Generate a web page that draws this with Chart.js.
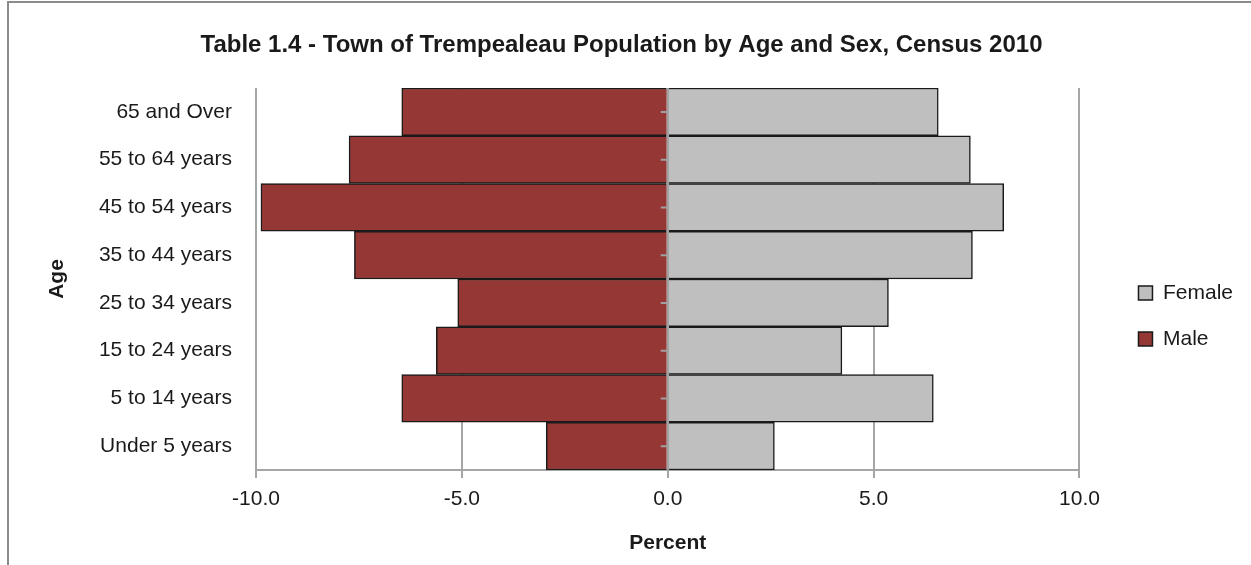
<!DOCTYPE html>
<html>
<head>
<meta charset="utf-8">
<script src="https://cdn.jsdelivr.net/npm/chart.js@4"></script>
<style>
  body { margin: 0; background: #fff; }
  #wrap { position: relative; width: 1251px; height: 565px; }
  #frame {
    position: absolute; left: 7px; top: 1px; right: 0; bottom: 0;
    border-top: 2px solid #8c8c8c; border-left: 2px solid #8c8c8c;
    pointer-events: none;
  }
</style>
</head>
<body>
<div id="wrap">
  <canvas id="myChart" width="1251" height="565"></canvas>
  <div id="frame"></div>
</div>
<script>
const ageGroups = [
  "65 and Over",
  "55 to 64 years",
  "45 to 54 years",
  "35 to 44 years",
  "25 to 34 years",
  "15 to 24 years",
  "5 to 14 years",
  "Under 5 years",
];
const malePercent = [-6.46, -7.74, -9.88, -7.61, -5.1, -5.62, -6.46, -2.95];
const femalePercent = [6.57, 7.35, 8.16, 7.4, 5.36, 4.23, 6.45, 2.59];
const xTicks = [-10, -5, 0, 5, 10];

const FONT = "'Liberation Sans', Arial, sans-serif";
const TEXT = "#1a1a1a";

// vertical axis at zero, drawn over the bars like in Excel
const zeroAxis = {
  id: "zeroAxis",
  afterDatasetsDraw(chart) {
    const { ctx, chartArea, scales } = chart;
    const x0 = scales.x.getPixelForValue(0);
    ctx.save();
    ctx.strokeStyle = "#a0a0a0";
    ctx.lineWidth = 2;
    ctx.beginPath();
    ctx.moveTo(x0, chartArea.top);
    ctx.lineTo(x0, chartArea.bottom);
    ageGroups.forEach((g, i) => {
      const y = scales.y.getPixelForValue(i);
      ctx.moveTo(x0 - 7, y);
      ctx.lineTo(x0, y);
    });
    ctx.stroke();
    ctx.restore();
  },
};

const chartData = {
  labels: ageGroups,
  datasets: [
    {
      label: "Male",
      data: malePercent,
      backgroundColor: "#953735",
      borderColor: "#1a1a1a",
      borderWidth: 1.5,
      barPercentage: 1,
      categoryPercentage: 1,
      xAxisID: "x",
      yAxisID: "y",
    },
    {
      label: "Female",
      data: femalePercent,
      backgroundColor: "#bfbfbf",
      borderColor: "#1a1a1a",
      borderWidth: 1.5,
      barPercentage: 1,
      categoryPercentage: 1,
      xAxisID: "x",
      yAxisID: "y",
    },
  ],
};

const config = {
  type: "bar",
  data: chartData,
  plugins: [zeroAxis],
  options: {
    indexAxis: "y",
    responsive: false,
    animation: false,
    devicePixelRatio: 1,
    layout: { padding: { left: 0, right: 8, top: 0, bottom: 0 } },
    plugins: {
      tooltip: { enabled: false },
      title: {
        display: true,
        text: "Table 1.4 - Town of Trempealeau Population by Age and Sex, Census 2010",
        color: TEXT,
        font: { family: FONT, size: 24, weight: "bold" },
        padding: { top: 30.5, bottom: 28.7 },
      },
      legend: {
        position: "right",
        reverse: true,
        title: { display: true, text: "", font: { size: 10 }, padding: { top: 55, bottom: 0 } },
        labels: {
          color: TEXT,
          font: { family: FONT, size: 21 },
          boxWidth: 14,
          boxHeight: 14,
          padding: 25,
        },
      },
    },
    scales: {
      x: {
        stacked: true,
        min: -10,
        max: 10,
        afterBuildTicks: (s) => { s.ticks = xTicks.map((v) => ({ value: v })); },
        afterFit: (s) => { s.height = 95; },
        grid: { color: "#a6a6a6", lineWidth: 2, tickLength: 8 },
        border: { color: "#a6a6a6", width: 2 },
        ticks: {
          color: TEXT,
          font: { family: FONT, size: 21 },
          padding: 9,
          callback: (v) => Number(v).toFixed(1),
        },
        title: {
          display: true,
          text: "Percent",
          color: TEXT,
          font: { family: FONT, size: 21, weight: "bold" },
          padding: { top: 0, bottom: 9.4 },
        },
      },
      y: {
        stacked: true,
        afterFit: (s) => { s.width = 256; },
        grid: { display: false, drawTicks: false },
        border: { display: false },
        ticks: { color: TEXT, font: { family: FONT, size: 21 }, padding: 24 },
        title: {
          display: true,
          text: "Age",
          color: TEXT,
          font: { family: FONT, size: 21, weight: "bold" },
          padding: { top: 44.4, bottom: 0 },
        },
      },
      // empty right axis, only keeps a gap between plot and legend
      yPad: {
        type: "category",
        position: "right",
        display: true,
        afterFit: (s) => { s.width = 34; },
        grid: { display: false, drawTicks: false },
        border: { display: false },
        ticks: { display: false },
      },
    },
  },
};

new Chart(document.getElementById("myChart").getContext("2d"), config);
</script>
</body>
</html>
